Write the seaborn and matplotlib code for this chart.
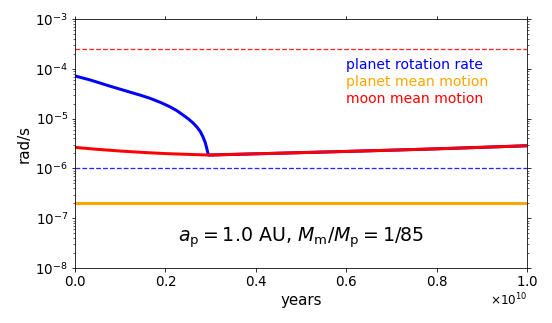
import numpy as np
import pandas as pd
import seaborn as sns
import matplotlib.pyplot as plt

# valeurs (x en années)
t_rot = [0.0, 0.033e10, 0.055e10, 0.077e10, 0.1e10, 0.122e10, 0.145e10, 0.166e10,
         0.19e10, 0.21e10, 0.225e10, 0.239e10, 0.25e10, 0.261e10, 0.27e10, 0.277e10,
         0.283e10, 0.288e10, 0.291e10, 0.294e10, 0.296e10]
w_rot = [7.2e-5, 6.0e-5, 5.2e-5, 4.5e-5, 3.9e-5, 3.4e-5, 2.95e-5, 2.56e-5,
         2.1e-5, 1.73e-5, 1.45e-5, 1.18e-5, 1.0e-5, 8.2e-6, 6.7e-6, 5.5e-6,
         4.3e-6, 3.3e-6, 2.6e-6, 2.0e-6, 1.86e-6]

t_moon = [0.0, 0.05e10, 0.1e10, 0.15e10, 0.2e10, 0.25e10, 0.296e10,
          0.4e10, 0.5e10, 0.6e10, 0.7e10, 0.8e10, 0.9e10, 1.0e10]
n_moon = [2.65e-6, 2.42e-6, 2.24e-6, 2.1e-6, 1.99e-6, 1.92e-6, 1.86e-6,
          1.97e-6, 2.08e-6, 2.2e-6, 2.33e-6, 2.48e-6, 2.66e-6, 2.86e-6]

t_span = [0.0, 1.0e10]
n_planet = [2.0e-7, 2.0e-7]
rot_crit = [1.0e-6, 1.0e-6]     # ligne pointillée bleue
moon_crit = [2.5e-4, 2.5e-4]    # ligne pointillée rouge

plt.rcParams['font.family'] = ['DejaVu Sans']

# figure à 72 dpi : 1 pt = 1 px
fig, ax = plt.subplots(figsize=(552 / 72, 323 / 72), dpi=72)

# après la synchronisation, la rotation suit le mouvement de la lune
t_rot_all = t_rot + t_moon[7:]
w_rot_all = w_rot + n_moon[7:]

sns.lineplot(x=t_rot_all, y=w_rot_all, color='blue', lw=3, ax=ax, sort=False)
sns.lineplot(x=t_span, y=n_planet, color='orange', lw=3, ax=ax)
sns.lineplot(x=t_moon, y=n_moon, color='red', lw=3, ax=ax)
sns.lineplot(x=t_span, y=rot_crit, color='blue', lw=1.3, ls='--', alpha=0.85, ax=ax)
sns.lineplot(x=t_span, y=moon_crit, color='red', lw=1.3, ls='--', alpha=0.85, ax=ax)

ax.set_yscale('log')
ax.set_ylim(1e-8, 1e-3)
ax.set_xlim(0, 1e10)
ax.ticklabel_format(axis='x', style='sci', scilimits=(0, 0), useMathText=True)
ax.tick_params(which='both', top=True, right=True, direction='out', labelsize=13.5)
ax.xaxis.get_offset_text().set_fontsize(12)
ax.set_xlabel('years', fontsize=15)
ax.set_ylabel('rad/s', fontsize=15)

ax.text(0.6, 0.815, 'planet rotation rate', color='blue', fontsize=14,
        transform=ax.transAxes, va='center')
ax.text(0.6, 0.747, 'planet mean motion', color='orange', fontsize=14,
        transform=ax.transAxes, va='center')
ax.text(0.6, 0.679, 'moon mean motion', color='red', fontsize=14,
        transform=ax.transAxes, va='center')
ax.text(0.5, 0.12, r'$a_\mathrm{p} = 1.0$ AU, $M_\mathrm{m}/M_\mathrm{p} = 1/85$',
        fontsize=19, transform=ax.transAxes, ha='center', va='center')

fig.subplots_adjust(left=0.136, right=0.955, top=0.941, bottom=0.17)
fig.savefig('out.png', dpi=72)
